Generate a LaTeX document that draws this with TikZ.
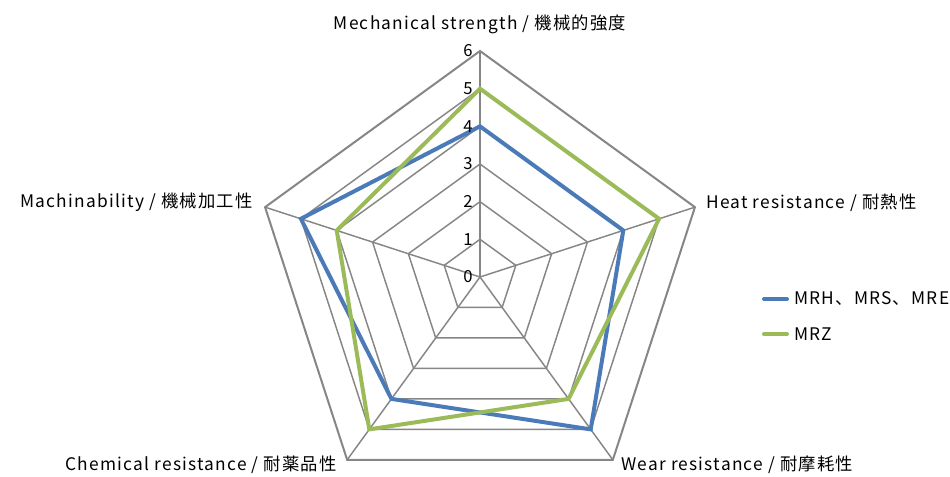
\documentclass[tikz,border=0pt]{standalone}
\usepackage{fontspec}
\setmainfont{Noto Sans CJK JP}[LetterSpace=7]
\usetikzlibrary{positioning}

\definecolor{gridgray}{RGB}{134,134,134}
\definecolor{mrhblue}{RGB}{74,122,184}
\definecolor{mrzgreen}{RGB}{155,187,89}

\tikzset{
  ring/.style={draw=gridgray, line width=1.1pt, line join=miter},
  outerring/.style={draw=gridgray, line width=1.5pt, line join=miter},
  spoke/.style={draw=gridgray, line width=1.1pt},
  series/.style={line width=3pt, line join=miter},
  axislabel/.style={font=\fontsize{13}{15}\selectfont, inner sep=0.75pt},
  ticklabel/.style={font=\fontsize{12.5}{14}\selectfont, inner sep=0.75pt, anchor=east},
}

\begin{document}
\begin{tikzpicture}[x=0.75pt,y=0.75pt,yscale=-1,xscale=1]
\useasboundingbox (0,0) rectangle (950,477);

%Center of the chart
\coordinate (c) at (480,277);
%Outer vertices (value 6)
\coordinate (mech) at (480,51);
\coordinate (heat) at (694.94,207.16);
\coordinate (wear) at (612.84,459.84);
\coordinate (chem) at (347.16,459.84);
\coordinate (mach) at (265.06,207.16);

%Spokes
\draw [spoke] (c) -- (heat) ;
\draw [spoke] (c) -- (wear) ;
\draw [spoke] (c) -- (chem) ;
\draw [spoke] (c) -- (mach) ;

%Rings 1 to 5
\draw [ring] (480,239.33) -- (515.82,265.36) -- (502.14,307.47) -- (457.86,307.47) -- (444.18,265.36) -- cycle ;
\draw [ring] (480,201.67) -- (551.65,253.72) -- (524.28,337.95) -- (435.72,337.95) -- (408.35,253.72) -- cycle ;
\draw [ring] (480,164) -- (587.47,242.08) -- (546.42,368.42) -- (413.58,368.42) -- (372.53,242.08) -- cycle ;
\draw [ring] (480,126.33) -- (623.29,230.44) -- (568.56,398.89) -- (391.44,398.89) -- (336.71,230.44) -- cycle ;
\draw [ring] (480,88.67) -- (659.11,218.80) -- (590.70,429.36) -- (369.30,429.36) -- (300.89,218.80) -- cycle ;
%Ring 6 (outer)
\draw [outerring] (mech) -- (heat) -- (wear) -- (chem) -- (mach) -- cycle ;

%Value axis
\draw [draw=gridgray, line width=2.2pt] (c) -- (mech) ;

%Series: MRH, MRS, MRE
\draw [series, draw=mrhblue] (480,126.33) -- (623.29,230.44) -- (590.70,429.36) -- (391.44,398.89) -- (300.89,218.80) -- cycle ;
%Series: MRZ
\draw [series, draw=mrzgreen] (480,88.67) -- (659.11,218.80) -- (568.56,398.89) -- (369.30,429.36) -- (336.71,230.44) -- cycle ;

% Tick labels
\node [ticklabel] (t0) at (474,277) {0};
\node [ticklabel] (t1) at (474,239.33) {1};
\node [ticklabel] (t2) at (474,201.67) {2};
\node [ticklabel] (t3) at (474,164) {3};
\node [ticklabel] (t4) at (474,126.33) {4};
\node [ticklabel] (t5) at (474,88.67) {5};
\node [ticklabel] (t6) at (474,51) {6};

% Text Node
\node [axislabel, anchor=base] (mechlabel) at (480,30) {Mechanical strength / 機械的強度};
% Text Node
\node [axislabel, anchor=base west] (heatlabel) at (705,209) {Heat resistance / 耐熱性};
% Text Node
\node [axislabel, anchor=base west] (wearlabel) at (620,470.5) {Wear resistance / 耐摩耗性};
% Text Node
\node [axislabel, anchor=base east] (chemlabel) at (338,470.5) {Chemical resistance / 耐薬品性};
% Text Node
\node [axislabel, anchor=base east] (machlabel) at (254,208) {Machinability / 機械加工性};

%Legend
\coordinate (legA) at (764,299);
\coordinate (legB) at (764,334);
\draw [series, draw=mrhblue, line cap=round] (legA) -- ++(23,0) coordinate (legAend) ;
\draw [series, draw=mrzgreen, line cap=round] (legB) -- ++(23,0) coordinate (legBend) ;
\node [axislabel, anchor=west] (mrhlabel) at (793,299) {MRH、MRS、MRE};
\node [axislabel, anchor=west] (mrzlabel) at (793,334) {MRZ};

\end{tikzpicture}
\end{document}
